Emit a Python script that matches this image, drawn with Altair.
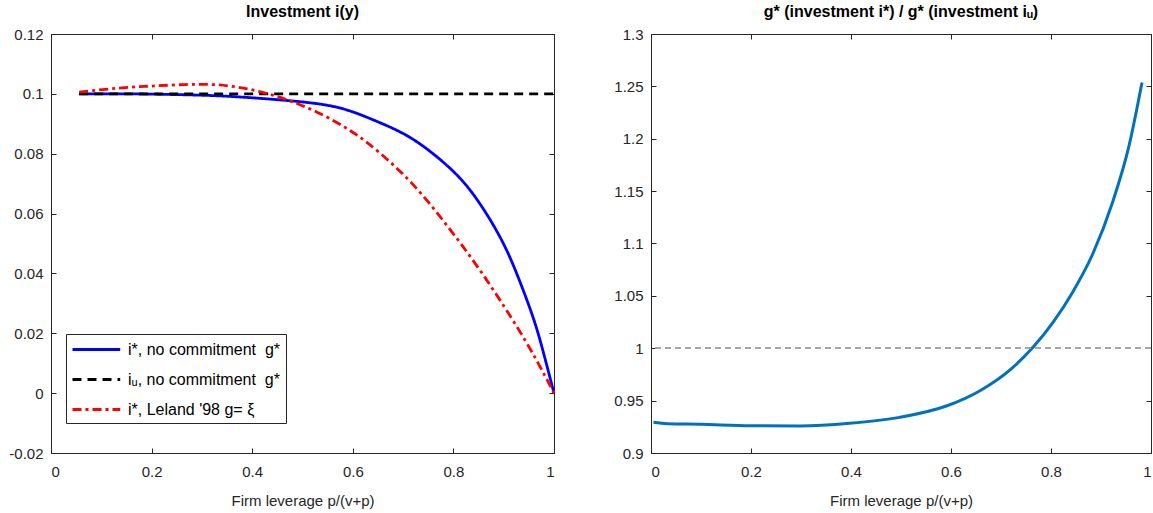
import altair as alt
import pandas as pd

# ---------------- data ----------------
lev_nc = [0.056, 0.15, 0.265, 0.35, 0.431, 0.53, 0.596, 0.652, 0.718, 0.785, 0.831, 0.871, 0.904, 0.93, 0.957, 0.977, 1.0]
inv_nc = [0.1, 0.1, 0.0997, 0.0992, 0.0983, 0.0967, 0.0942, 0.0905, 0.0850, 0.0764, 0.0683, 0.0585, 0.0484, 0.0382, 0.0260, 0.0148, 0.0]

lev_u = [0.056, 1.0]
inv_u = [0.1, 0.1]

lev_le = [0.056, 0.133, 0.199, 0.265, 0.331, 0.398, 0.464, 0.53, 0.596, 0.652, 0.718, 0.785, 0.851, 0.917, 0.964, 1.0]
inv_le = [0.1006, 0.1019, 0.1026, 0.1031, 0.103, 0.1014, 0.0983, 0.0938, 0.0876, 0.0805, 0.0700, 0.0565, 0.0415, 0.0247, 0.0114, 0.0]

series_names = ["i*, no commitment \u00a0g*", "iᵤ, no commitment \u00a0g*", "i*, Leland '98 g= ξ"]
series_colors = ["#0000FF", "#000000", "#FF0000"]
series_dashes = [[1, 0], [9, 6], [9, 4, 3, 4]]

lev_ratio = [0.005, 0.033, 0.099, 0.199, 0.298, 0.397, 0.497, 0.592, 0.658, 0.724, 0.764, 0.804, 0.843, 0.883, 0.923, 0.956, 0.982]
ratio = [0.9293, 0.928, 0.9274, 0.926, 0.9258, 0.9283, 0.934, 0.9451, 0.9595, 0.9818, 1.0009, 1.0247, 1.0533, 1.0895, 1.1392, 1.1932, 1.2537]
ref_level = 1.0

x_ticks = [0, 0.2, 0.4, 0.6, 0.8, 1]
left_y_ticks = [-0.02, 0, 0.02, 0.04, 0.06, 0.08, 0.1, 0.12]
right_y_ticks = [0.9, 0.95, 1, 1.05, 1.1, 1.15, 1.2, 1.25, 1.3]

# ---------------- tables ----------------
rows = []
for name, xs, ys in zip(series_names, [lev_nc, lev_u, lev_le], [inv_nc, inv_u, inv_le]):
    for k, (x, y) in enumerate(zip(xs, ys)):
        rows.append({"series": name, "lev": x, "inv": y, "k": k})
left_df = pd.DataFrame(rows)
right_df = pd.DataFrame({"lev": lev_ratio, "ratio": ratio, "k": list(range(len(ratio)))})

FONT = "Liberation Sans"
AX = "#262626"
INWARD = {"expr": "-5"}


def axis(values, fmt, orient, title=None, labels=True):
    kw = dict(
        values=values, orient=orient, tickSize=INWARD, tickColor=AX, domainColor=AX,
        labelColor=AX, labelFont=FONT, labelFontSize=15, grid=False, labels=labels,
        domain=True,
    )
    if labels:
        kw["labelExpr"] = f"replace(format(datum.value, '{fmt}'), '\u2212', '-')"
        kw["labelPadding"] = 13 if orient in ("left", "right") else 16
    if title:
        kw.update(title=title, titleFont=FONT, titleFontSize=15, titleFontWeight="normal",
                  titleColor=AX, titlePadding=14)
    else:
        kw["title"] = None
    return alt.Axis(**kw)


x_scale = alt.Scale(domain=[0, 1], nice=False, zero=False)
yl_scale = alt.Scale(domain=[-0.02, 0.12], nice=False, zero=False)
yr_scale = alt.Scale(domain=[0.9, 1.3], nice=False, zero=False)

title_kw = dict(font=FONT, fontSize=16, fontWeight="bold", color="#000000", offset=7)

# ---------------- left panel ----------------
left_lines = alt.Chart(left_df).mark_line(strokeWidth=2.8, interpolate="natural").encode(
    x=alt.X("lev:Q", scale=x_scale, axis=axis(x_ticks, ".1~f", "bottom", "Firm leverage p/(v+p)")),
    y=alt.Y("inv:Q", scale=yl_scale, axis=axis(left_y_ticks, ".2~f", "left")),
    color=alt.Color("series:N", scale=alt.Scale(domain=series_names, range=series_colors),
                    legend=alt.Legend(
                        title=None, orient="none", legendX=15, legendY=300,
                        symbolType="M-1,0H4.3", symbolSize=324, symbolStrokeWidth=3,
                        symbolFillColor="transparent",
                        labelFont=FONT, labelFontSize=16, labelColor="#000000",
                        strokeColor=AX, fillColor="#FFFFFF", padding=5, rowPadding=11,
                        labelOffset=36, labelLimit=400)),
    strokeDash=alt.StrokeDash("series:N", scale=alt.Scale(domain=series_names, range=series_dashes),
                              legend=None),
    order=alt.Order("k:Q"),
)

left_mirror = alt.Chart(left_df).mark_point(opacity=0).encode(
    x=alt.X("lev:Q", scale=x_scale, axis=axis(x_ticks, ".1~f", "top", labels=False)),
    y=alt.Y("inv:Q", scale=yl_scale, axis=axis(left_y_ticks, ".2~f", "right", labels=False)),
)

left = alt.layer(left_lines, left_mirror).resolve_axis(x="independent", y="independent").properties(
    width=503, height=419, title=alt.TitleParams("Investment i(y)", **title_kw)
)

# ---------------- right panel ----------------
ref_rule = alt.Chart(right_df).mark_rule(color="#A6A6A6", strokeWidth=1.5, strokeDash=[6, 4]).encode(
    y=alt.Y(datum=ref_level, scale=yr_scale, axis=None)
)

ratio_line = alt.Chart(right_df).mark_line(color="#0072BD", strokeWidth=3, interpolate="monotone").encode(
    x=alt.X("lev:Q", scale=x_scale, axis=axis(x_ticks, ".1~f", "bottom", "Firm leverage p/(v+p)")),
    y=alt.Y("ratio:Q", scale=yr_scale, axis=axis(right_y_ticks, ".2~f", "left")),
    order=alt.Order("k:Q"),
)

right_mirror = alt.Chart(right_df).mark_point(opacity=0).encode(
    x=alt.X("lev:Q", scale=x_scale, axis=axis(x_ticks, ".1~f", "top", labels=False)),
    y=alt.Y("ratio:Q", scale=yr_scale, axis=axis(right_y_ticks, ".2~f", "right", labels=False)),
)

right = alt.layer(ratio_line, ref_rule, right_mirror).resolve_axis(
    x="independent", y="independent"
).properties(
    width=500, height=419,
    title=alt.TitleParams("g* (investment i*) / g* (investment iᵤ)", **title_kw),
)

chart = alt.hconcat(left, right, spacing=97, bounds="flush").properties(
    padding={"left": 8, "top": 3, "right": 0, "bottom": 0},
    background="#FFFFFF",
).configure_view(stroke=AX, strokeWidth=1).configure_concat(spacing=97)

chart.save("out.html", embed_options={"renderer": "svg", "actions": False})
